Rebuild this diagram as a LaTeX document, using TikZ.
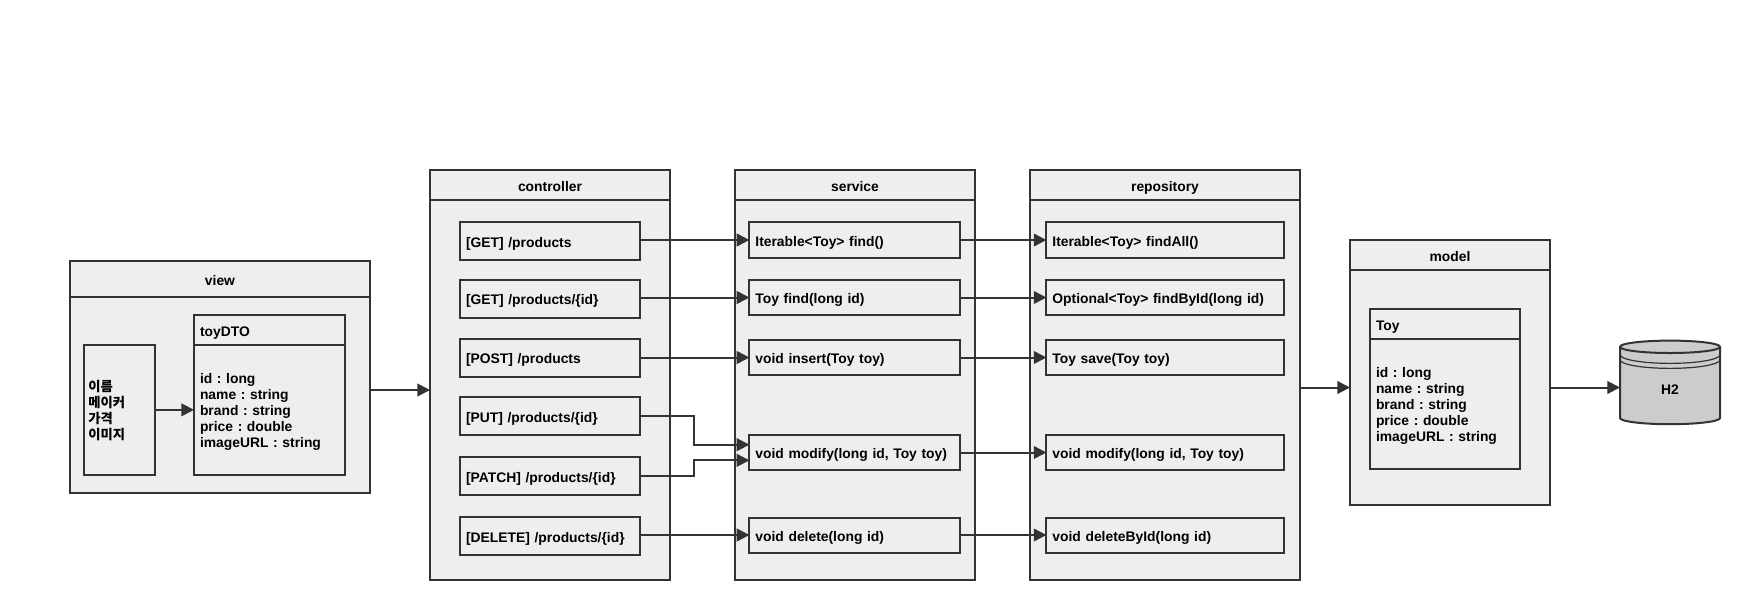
\documentclass[tikz,border=0pt]{standalone}
\usepackage{fontspec}
\setmainfont{Liberation Sans}
\newfontfamily\kofont{Noto Sans CJK KR}
\usetikzlibrary{arrows.meta,shapes.geometric}

\definecolor{linegray}{HTML}{333333}
\definecolor{boxgray}{HTML}{EEEEEE}
\definecolor{dbgray}{HTML}{CCCCCC}

\tikzset{
    panel/.style 2 args={draw=linegray, fill=boxgray, line width=1.5pt, outer sep=0pt, inner sep=0pt, anchor=north west,
        minimum width=#1*0.75pt, minimum height=#2*0.75pt, text height=9pt, text depth=0pt,
        font=\bfseries\frenchspacing\fontsize{10.4}{12}\selectfont},
    item/.style 2 args={panel={#1}{#2}, align=left, text width=#1*0.75pt-9pt},
    flow/.style={draw=linegray, line width=1.5pt, -{Triangle[length=9.5pt,width=9.5pt]}}
}

\begin{document}
\begin{tikzpicture}[x=0.75pt, y=-0.75pt]
    \useasboundingbox (0,0) rectangle (1740,600);

    % Dibuja view
    \node[panel={300}{36}] (viewhead) at (70,261) {view};
    \node[panel={300}{196}] (viewbody) at (70,297) {};
    \node[panel={70.6}{130.3}, align=left, text width=47pt, text depth=36pt, font=\bfseries\kofont\fontsize{10}{12}\selectfont] (viewform) at (84.4,344.7) {이름\\메이커\\가격\\이미지};
    \node[item={151}{30}, text height=10.5pt] (dtohead) at (194,314.7) {toyDTO};
    \node[item={151}{130.3}, text depth=48pt] (dtobody) at (194,344.7) {id : long\\name : string\\brand : string\\price : double\\imageURL : string};

    % Dibuja controller
    \node[panel={240}{30}] (ctrlhead) at (430,170) {controller};
    \node[panel={240}{380}] (ctrlbody) at (430,200) {};
    \node[item={180}{38}] (ctrlall) at (460,222) {[GET] /products};
    \node[item={180}{38}] (ctrlone) at (460,279.7) {[GET] /products/\{id\}};
    \node[item={180}{38}] (ctrlpost) at (460,338.7) {[POST] /products};
    \node[item={180}{38}] (ctrlput) at (460,397.3) {[PUT] /products/\{id\}};
    \node[item={180}{38}] (ctrlpatch) at (460,457.3) {[PATCH] /products/\{id\}};
    \node[item={180}{38}] (ctrldelete) at (460,517.3) {[DELETE] /products/\{id\}};

    % Dibuja service
    \node[panel={240}{30}] (svchead) at (735,170) {service};
    \node[panel={240}{380}] (svcbody) at (735,200) {};
    \node[item={210.6}{36}] (svcall) at (749.4,222) {Iterable<Toy> find()};
    \node[item={210.6}{35}] (svcone) at (749.4,280) {Toy find(long id)};
    \node[item={210.6}{35}] (svcinsert) at (749.4,340) {void insert(Toy toy)};
    \node[item={210.6}{35}] (svcmodify) at (749.4,435) {void modify(long id, Toy toy)};
    \node[item={210.6}{35}] (svcdelete) at (749.4,517.5) {void delete(long id)};

    % Dibuja repository
    \node[panel={270}{30}] (repohead) at (1030,170) {repository};
    \node[panel={270}{380}] (repobody) at (1030,200) {};
    \node[item={237.2}{36}] (repoall) at (1046.4,222) {Iterable<Toy> findAll()};
    \node[item={237.2}{35}] (repoone) at (1046.4,280) {Optional<Toy> findById(long id)};
    \node[item={237.2}{35}] (reposave) at (1046.4,340) {Toy save(Toy toy)};
    \node[item={237.2}{35}] (repomodify) at (1046.4,435) {void modify(long id, Toy toy)};
    \node[item={237.2}{35}] (repodelete) at (1046.4,517.5) {void deleteById(long id)};

    % Dibuja model
    \node[panel={200}{30}] (modelhead) at (1350,240) {model};
    \node[panel={200}{235}] (modelbody) at (1350,270) {};
    \node[item={150}{30}, text height=10.5pt] (toyhead) at (1370,308.7) {Toy};
    \node[item={150}{130}, text depth=48pt] (toybody) at (1370,338.7) {id : long\\name : string\\brand : string\\price : double\\imageURL : string};

    % Dibuja H2
    \node[cylinder, shape border rotate=90, aspect=0.7, draw=linegray, fill=dbgray, line width=1.5pt, outer sep=0pt, inner sep=0pt,
        minimum width=75pt, minimum height=62.7pt, text height=12.4pt, font=\bfseries\fontsize{10.4}{12}\selectfont] (dbh2) at (1670,386) {H2};
    \draw[draw=linegray, line width=0.9pt] (1620,354.7) arc[start angle=180, end angle=360, x radius=37.5pt, y radius=6.5pt];
    \draw[draw=linegray, line width=0.9pt] (1620,359.7) arc[start angle=180, end angle=360, x radius=37.5pt, y radius=6.5pt];

    % Flechas entre capas
    \draw[flow] (viewform.east) -- (viewform.east -| dtobody.west);
    \draw[flow] (viewbody.east |- ctrlbody.west) -- (ctrlbody.west);
    \draw[flow] (repobody.east |- modelbody.west) -- (modelbody.west);
    \draw[flow] (modelbody.east) -- (modelbody.east -| dbh2.west);

    % Flechas controller a service
    \draw[flow] (ctrlall.east |- svcall.west) -- (svcall.west);
    \draw[flow] (ctrlone.east |- svcone.west) -- (svcone.west);
    \draw[flow] (ctrlpost.east |- svcinsert.west) -- (svcinsert.west);
    \coordinate (elbow) at (694,0);
    \coordinate (modifyup) at ([yshift=5.85pt]svcmodify.west);
    \coordinate (modifydown) at ([yshift=-5.85pt]svcmodify.west);
    \draw[flow] (ctrlput.east) -| (elbow |- modifyup) -- (modifyup);
    \draw[flow] (ctrlpatch.east) -| (elbow |- modifydown) -- (modifydown);
    \draw[flow] (ctrldelete.east |- svcdelete.west) -- (svcdelete.west);

    % Flechas service a repository
    \draw[flow] (svcall.east) -- (repoall.west);
    \draw[flow] (svcone.east) -- (repoone.west);
    \draw[flow] (svcinsert.east) -- (reposave.west);
    \draw[flow] (svcmodify.east) -- (repomodify.west);
    \draw[flow] (svcdelete.east) -- (repodelete.west);
\end{tikzpicture}
\end{document}
